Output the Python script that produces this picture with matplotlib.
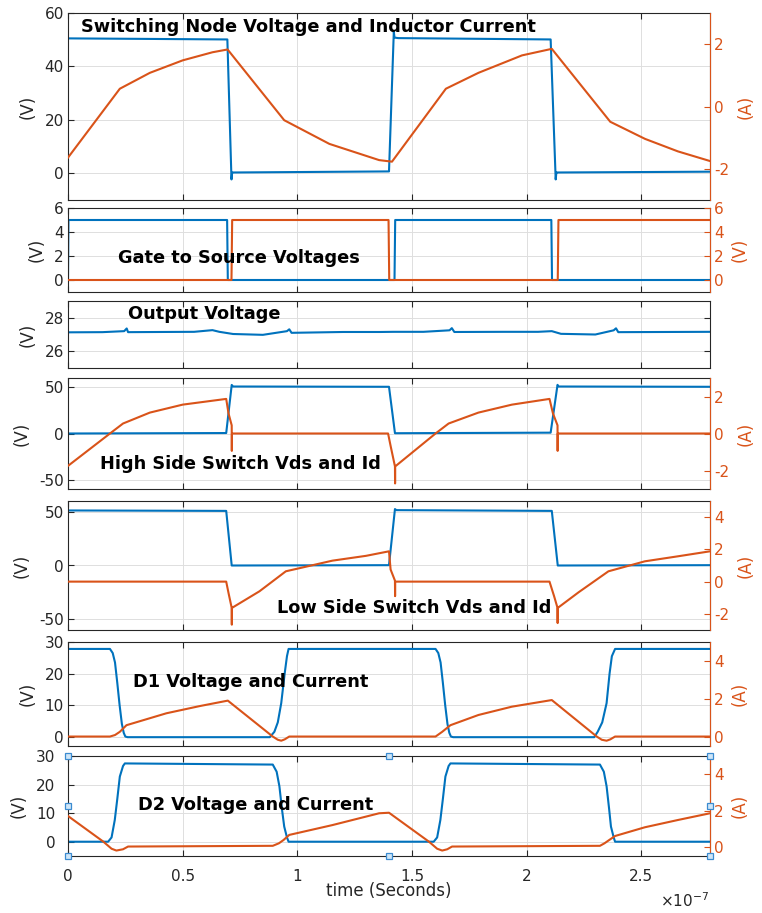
import numpy as np
import matplotlib.pyplot as plt

plt.rcParams['font.family'] = ['DejaVu Sans']
plt.rcParams['mathtext.fontset'] = 'dejavusans'
plt.rcParams['axes.unicode_minus'] = False

BLUE = '#0072BD'
ORANGE = '#D95319'
DARK = '#262626'
T = 1e-7  # time values below are in units of 1e-7 s

# --- switching node voltage (V) and inductor current (A)
sw_t = [0, 0.695, 0.713, 0.716, 0.72, 1.40, 1.421, 1.424, 1.44, 2.105, 2.127, 2.13, 2.135, 2.8]
sw_v = [50.5, 50.1, -2.3, 0.3, 0.3, 0.7, 53, 50.8, 50.6, 50.1, -2.3, 0.3, 0.3, 0.6]
il_t = [0, 0.226, 0.357, 0.5, 0.63, 0.696, 0.943, 1.14, 1.357, 1.413, 1.648, 1.79, 1.98, 2.11,
        2.365, 2.517, 2.66, 2.8]
il_a = [-1.64, 0.57, 1.08, 1.48, 1.74, 1.83, -0.44, -1.2, -1.72, -1.77, 0.57, 1.08, 1.64, 1.85,
        -0.49, -1.04, -1.44, -1.75]

# --- gate to source voltages (V)
g1_t = [0, 0.002, 0.694, 0.697, 1.424, 1.427, 2.108, 2.111, 2.8]
g1_v = [0, 5, 5, 0, 0, 5, 5, 0, 0]
g2_t = [0, 0.713, 0.716, 1.398, 1.401, 2.136, 2.139, 2.8]
g2_v = [0, 0, 5, 5, 0, 0, 5, 5]

# --- output voltage (V)
vo_t = [0, 0.15, 0.245, 0.256, 0.262, 0.4, 0.55, 0.63, 0.66, 0.72, 0.85, 0.955, 0.965, 0.975,
        1.2, 1.36, 1.42, 1.55, 1.664, 1.674, 1.685, 1.9, 2.05, 2.11, 2.15, 2.3, 2.38, 2.39, 2.40,
        2.6, 2.8]
vo_v = [27.13, 27.14, 27.2, 27.36, 27.14, 27.15, 27.16, 27.26, 27.16, 27.03, 26.98, 27.2, 27.31,
        27.1, 27.15, 27.15, 27.16, 27.16, 27.25, 27.38, 27.15, 27.16, 27.16, 27.2, 27.04, 27.0,
        27.25, 27.37, 27.14, 27.15, 27.16]

# --- high side switch Vds (V) and Id (A)
hv_t = [0, 0.69, 0.714, 0.72, 1.40, 1.426, 2.105, 2.135, 2.14, 2.8]
hv_v = [0, 0.5, 52.5, 50.8, 50.5, 0.3, 0.9, 52.6, 50.8, 50.5]
hi_t = [0, 0.183, 0.24, 0.357, 0.50, 0.69, 0.70, 0.714, 0.7145, 0.715, 1.396, 1.407, 1.426,
        1.4265, 1.427, 1.603, 1.66, 1.79, 1.936, 2.10, 2.115, 2.135, 2.1355, 2.136, 2.8]
hi_a = [-1.75, 0.0, 0.54, 1.13, 1.56, 1.87, 1.09, 0.44, -0.94, 0.0, 0.0, -0.67, -1.78, -2.7,
        -1.78, 0.0, 0.54, 1.13, 1.56, 1.87, 1.09, 0.44, -0.94, 0.0, 0.0]

# --- low side switch Vds (V) and Id (A)
lv_t = [0, 0.69, 0.714, 1.40, 1.426, 1.432, 2.11, 2.136, 2.8]
lv_v = [51.2, 50.8, 0, 0.3, 52.5, 51.5, 50.8, 0, 0.3]
lo_t = [0, 0.69, 0.70, 0.714, 0.7145, 0.715, 0.835, 0.95, 1.153, 1.30, 1.40, 1.407, 1.426,
        1.4265, 1.427, 2.10, 2.12, 2.135, 2.1355, 2.136, 2.227, 2.357, 2.516, 2.66, 2.8]
lo_a = [0.0, 0.0, -0.7, -1.63, -2.67, -1.63, -0.6, 0.64, 1.3, 1.6, 1.88, 0.75, 0.06, -0.9, 0.0,
        0.0, -0.9, -1.63, -2.57, -1.63, -0.66, 0.64, 1.26, 1.57, 1.88]

# --- D1 voltage (V) and current (A)
d1v_t = [0, 0.183, 0.195, 0.205, 0.215, 0.225, 0.235, 0.243, 0.25, 0.26,
         0.88, 0.90, 0.915, 0.93, 0.945, 0.955, 0.962,
         1.603, 1.615, 1.625, 1.635, 1.645, 1.655, 1.663, 1.67, 1.68,
         2.295, 2.31, 2.33, 2.349, 2.362, 2.372, 2.386, 2.8]
d1v_v = [27.8, 27.8, 26.5, 23.5, 17, 10, 4, 1.2, 0, -0.2,
         -0.2, 1.5, 4.5, 10.6, 20, 25.5, 27.8,
         27.8, 26.5, 23.5, 17, 10, 4, 1.2, 0, -0.2,
         -0.2, 1.5, 4.5, 10.6, 20, 25.5, 27.8, 27.8]
d1i_t = [0, 0.183, 0.205, 0.226, 0.255, 0.429, 0.574, 0.697, 0.893, 0.915, 0.93, 0.945, 0.965,
         1.603, 1.632, 1.668, 1.79, 1.936, 2.11, 2.306, 2.328, 2.349, 2.365, 2.386, 2.8]
d1i_a = [0, 0, 0.08, 0.25, 0.6, 1.23, 1.61, 1.9, 0, -0.17, -0.22, -0.15, 0,
         0, 0.25, 0.6, 1.14, 1.58, 1.93, 0, -0.17, -0.22, -0.15, 0, 0]

# --- D2 voltage (V) and current (A)
d2v_t = [0, 0.175, 0.19, 0.204, 0.215, 0.226, 0.24, 0.248, 0.893, 0.91, 0.922, 0.933, 0.943,
         0.955, 0.962, 1.595, 1.61, 1.624, 1.635, 1.646, 1.66, 1.668, 2.32, 2.337, 2.349, 2.36,
         2.368, 2.38, 2.386, 2.8]
d2v_v = [0, 0, 1.5, 7.6, 15, 22.8, 26.5, 27.4, 27.0, 24.5, 19.4, 11.5, 5.3, 1.5, 0,
         0, 1.5, 7.6, 15, 22.8, 26.5, 27.4, 27.0, 24.5, 19.4, 11.5, 5.3, 1.5, 0, 0]
d2i_t = [0, 0.154, 0.19, 0.211, 0.24, 0.262, 0.893, 0.92, 0.94, 0.965, 1.153, 1.357, 1.40,
         1.574, 1.61, 1.632, 1.654, 1.675, 2.32, 2.34, 2.357, 2.386, 2.516, 2.66, 2.8]
d2i_a = [1.7, 0.29, -0.1, -0.2, -0.13, 0.02, 0.06, 0.2, 0.38, 0.66, 1.2, 1.85, 1.88,
         0.29, -0.1, -0.2, -0.13, 0.02, 0.06, 0.2, 0.35, 0.6, 1.08, 1.48, 1.85]

x_ticks = [0, 0.5, 1, 1.5, 2, 2.5]
x_labels = ['0', '0.5', '1', '1.5', '2', '2.5']

titles = ['Switching Node Voltage and Inductor Current', 'Gate to Source Voltages',
          'Output Voltage', 'High Side Switch Vds and Id', 'Low Side Switch Vds and Id',
          'D1 Voltage and Current', 'D2 Voltage and Current']

W, H = 762, 913
fig = plt.figure(figsize=(W / 100, H / 100), dpi=100)


def make_axes(top, bot):
    return fig.add_axes([68 / W, 1 - bot / H, (710 - 68) / W, (bot - top) / H])


def style(ax, ylim, yticks, twin=None, rylim=None, rticks=None, rlabel='(A)'):
    ax.set_xlim(0, 2.8 * T)
    ax.set_xticks([x * T for x in x_ticks])
    ax.set_ylim(ylim)
    ax.set_yticks(yticks)
    ax.grid(True, color='#dedede', lw=0.7)
    ax.set_axisbelow(True)
    ax.tick_params(direction='in', top=True, right=twin is None, length=4, width=0.8,
                   labelsize=11, colors=DARK, labelbottom=False, pad=3)
    for s in ax.spines.values():
        s.set_color(DARK)
        s.set_linewidth(0.8)
    ax.set_ylabel('(V)', fontsize=12, color=DARK, labelpad=6)
    if twin is not None:
        twin.set_ylim(rylim)
        twin.set_yticks(rticks)
        twin.tick_params(direction='in', length=4, width=0.8, labelsize=11, colors=ORANGE, pad=3)
        for k in ['top', 'bottom', 'left']:
            twin.spines[k].set_visible(False)
        twin.spines['right'].set_color(ORANGE)
        twin.spines['right'].set_linewidth(0.8)
        twin.set_ylabel(rlabel, fontsize=12, color=ORANGE, labelpad=5)


def sec(t):
    return np.array(t) * T


lw = 1.5
tfont = dict(fontsize=12.8, fontweight='bold', color='black', zorder=20)

# panel 1
ax = make_axes(13, 200)
ax.plot(sec(sw_t), sw_v, color=BLUE, lw=lw)
tw = ax.twinx()
tw.plot(sec(il_t), il_a, color=ORANGE, lw=lw)
style(ax, (-10, 60), [0, 20, 40, 60], tw, (-3, 3), [-2, 0, 2])
tw.text(0.02, 0.925, titles[0], transform=tw.transAxes, va='center', **tfont)

# panel 2
ax = make_axes(208, 292)
ax.plot(sec(g1_t), g1_v, color=BLUE, lw=lw)
tw = ax.twinx()
tw.plot(sec(g2_t), g2_v, color=ORANGE, lw=lw)
style(ax, (-1, 6), [0, 2, 4, 6], tw, (-1, 6), [0, 2, 4, 6], rlabel='(V)')
tw.text(0.078, 0.405, titles[1], transform=tw.transAxes, va='center', **tfont)

# panel 3
ax = make_axes(301, 368)
ax.plot(sec(vo_t), vo_v, color=BLUE, lw=lw)
style(ax, (25, 29), [26, 28])
ax.text(0.093, 0.80, titles[2], transform=ax.transAxes, va='center', **tfont)

# panel 4
ax = make_axes(378, 489)
ax.plot(sec(hv_t), hv_v, color=BLUE, lw=lw)
tw = ax.twinx()
tw.plot(sec(hi_t), hi_a, color=ORANGE, lw=lw)
style(ax, (-60, 60), [-50, 0, 50], tw, (-3, 3), [-2, 0, 2])
tw.text(0.05, 0.225, titles[3], transform=tw.transAxes, va='center', **tfont)

# panel 5
ax = make_axes(501, 630)
ax.plot(sec(lv_t), lv_v, color=BLUE, lw=lw)
tw = ax.twinx()
tw.plot(sec(lo_t), lo_a, color=ORANGE, lw=lw)
style(ax, (-60, 60), [-50, 0, 50], tw, (-3, 5), [-2, 0, 2, 4])
tw.text(0.326, 0.17, titles[4], transform=tw.transAxes, va='center', **tfont)

# panel 6
ax = make_axes(642, 746)
ax.plot(sec(d1v_t), d1v_v, color=BLUE, lw=lw)
tw = ax.twinx()
tw.plot(sec(d1i_t), d1i_a, color=ORANGE, lw=lw)
style(ax, (-3, 30), [0, 10, 20, 30], tw, (-0.5, 5), [0, 2, 4])
tw.text(0.101, 0.615, titles[5], transform=tw.transAxes, va='center', **tfont)

# panel 7
ax = make_axes(756, 856)
ax.plot(sec(d2v_t), d2v_v, color=BLUE, lw=lw)
tw = ax.twinx()
tw.plot(sec(d2i_t), d2i_a, color=ORANGE, lw=lw)
style(ax, (-5, 30), [0, 10, 20, 30], tw, (-0.5, 5), [0, 2, 4])
tw.text(0.109, 0.51, titles[6], transform=tw.transAxes, va='center', **tfont)
ax.tick_params(labelbottom=True, pad=9)
ax.set_xticklabels(x_labels)
ax.set_xlabel('time (Seconds)', fontsize=12, color=DARK, labelpad=-1)
# selection handles around the last axes
hx = [0, 0.5, 1, 0, 1, 0, 0.5, 1]
hy = [1, 1, 1, 0.5, 0.5, 0, 0, 0]
tw.plot(hx, hy, 's', transform=tw.transAxes, ms=5, mfc='#cfe6f8', mec='#3b8bd0', mew=0.9,
        clip_on=False, zorder=30)

fig.text(660 / W, 1 - 901 / H, r'$\times$10$^{-7}$', fontsize=11, color=DARK, va='center')

fig.savefig('out.png', dpi=100)
